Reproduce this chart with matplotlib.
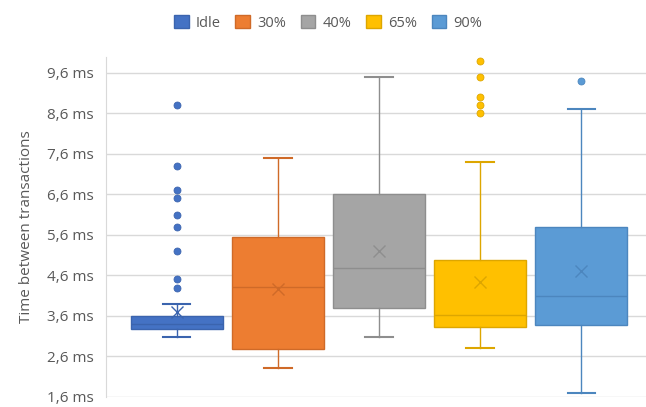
import matplotlib.pyplot as plt
from matplotlib.patches import Patch

plt.rcParams['font.family'] = ['Open Sans', 'DejaVu Sans']

# load levels and their box statistics (ms)
labels = ["Idle", "30%", "40%", "65%", "90%"]
q1 = [3.28, 2.78, 3.79, 3.33, 3.37]
median = [3.39, 4.32, 4.79, 3.63, 4.09]
q3 = [3.59, 5.54, 6.60, 4.99, 5.79]
whisker_low = [3.08, 2.32, 3.08, 2.80, 1.70]
whisker_high = [3.90, 7.50, 9.50, 7.40, 8.70]
mean = [3.70, 4.26, 5.20, 4.44, 4.71]
outliers = [
    [8.80, 7.30, 6.70, 6.50, 6.10, 5.80, 5.19, 4.50, 4.29],
    [],
    [],
    [9.90, 9.50, 9.00, 8.80, 8.60],
    [9.40],
]

fills = ["#4472C4", "#ED7D31", "#A5A5A5", "#FFC000", "#5B9BD5"]
edges = ["#3B64AE", "#CF6A28", "#8E8E8E", "#DDA600", "#4C86BE"]

fig = plt.figure(figsize=(6.46, 4.07), dpi=100)
ax = fig.add_axes([0.164, 0.025, 0.836, 0.836])

for i in range(len(labels)):
    stats = [{
        "label": labels[i],
        "q1": q1[i], "med": median[i], "q3": q3[i],
        "whislo": whisker_low[i], "whishi": whisker_high[i],
        "mean": mean[i], "fliers": outliers[i],
    }]
    c, e = fills[i], edges[i]
    ax.bxp(stats, positions=[i], widths=0.91, capwidths=0.27,
           patch_artist=True, showmeans=True, manage_ticks=False,
           boxprops=dict(facecolor=c, edgecolor=e, linewidth=1.0),
           medianprops=dict(color=e, linewidth=1.0),
           whiskerprops=dict(color=e, linewidth=1.0),
           capprops=dict(color=e, linewidth=1.5),
           meanprops=dict(marker="x", markeredgecolor=e, markersize=9,
                          markeredgewidth=1.0),
           flierprops=dict(marker="o", markerfacecolor=c, markeredgecolor=e,
                           markersize=5, markeredgewidth=0.6))

ax.set_xlim(-0.70, 4.64)
ax.set_ylim(1.6, 10.0)
yticks = [1.6 + k for k in range(9)]
ax.set_yticks(yticks)
ax.set_yticklabels([f"{v:.1f}".replace(".", ",") + " ms" for v in yticks])
ax.set_xticks([])
ax.tick_params(axis="y", length=0, colors="#595959", labelsize=11, pad=9)
ax.grid(axis="y", color="#D9D9D9", linewidth=1)
ax.set_axisbelow(True)
for side in ["top", "right", "bottom"]:
    ax.spines[side].set_visible(False)
ax.spines["left"].set_color("#D9D9D9")
ax.set_ylabel("Time between transactions", color="#595959", fontsize=11, labelpad=9)

handles = [Patch(facecolor=fills[i], edgecolor=edges[i], label=labels[i])
           for i in range(len(labels))]
fig.legend(handles=handles, loc="center", bbox_to_anchor=(0.508, 0.943), ncol=5,
           frameon=False, fontsize=10.5, labelcolor="#595959",
           handlelength=1.0, handleheight=1.0, handletextpad=0.5,
           columnspacing=1.0)

fig.savefig("out.png", dpi=100)
